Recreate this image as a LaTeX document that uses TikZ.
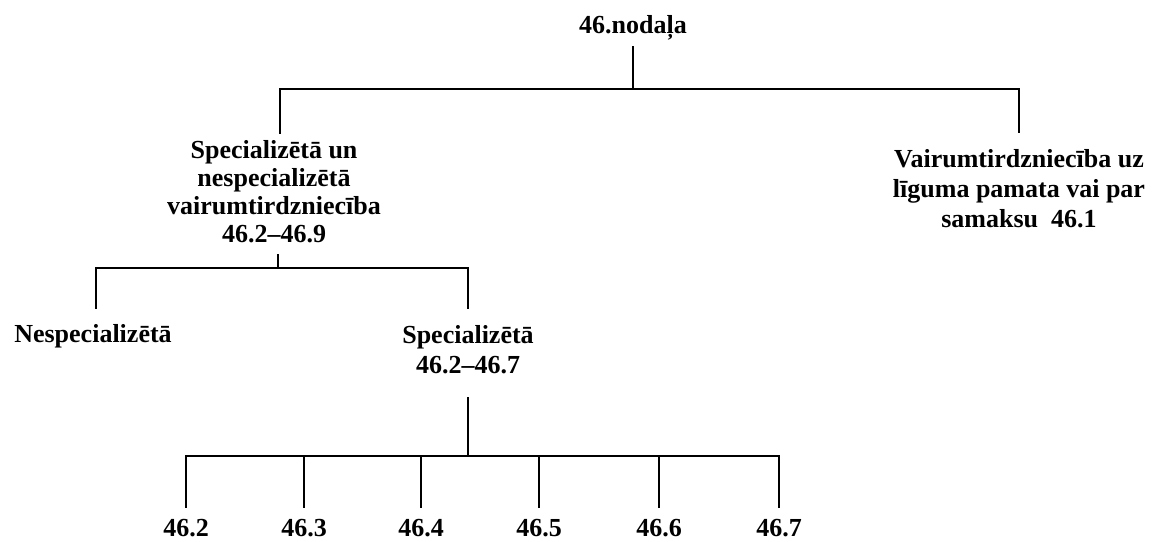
\documentclass[tikz,border=0pt]{standalone}
\usepackage{fontspec}
\setmainfont{Liberation Serif}
\begin{document}
\begin{tikzpicture}[x=1pt,y=-1pt,
  lbl/.style={inner sep=0pt,anchor=base,align=center,font=\fontsize{26}{30}\selectfont\bfseries},
  lbltight/.style={lbl,font=\fontsize{26}{28}\selectfont\bfseries},
  conn/.style={line width=1.6pt,line cap=rect}]
\useasboundingbox (0,0) rectangle (1155,541);
% nodes (anchor base = baseline of the last line)
\node[lbl] (root) at (633,33) {46.nodaļa};
\node[lbltight] (spun) at (274,242) {Specializētā un\\nespecializētā\\vairumtirdzniecība\\46.2–46.9};
\node[lbl] (vair) at (1019,227) {Vairumtirdzniecība uz\\līguma pamata vai par\\samaksu\ \ 46.1};
\node[lbl] (nesp) at (93,342) {Nespecializētā};
\node[lbl] (spec) at (468,373) {Specializētā\\46.2–46.7};
\foreach \n/\x in {2/186,3/304,4/421,5/539,6/659,7/779}{
  \node[lbl] (c\n) at (\x,536) {46.\n};
}
% junction coordinates
\coordinate (r0) at (633,47);
\coordinate (r1) at (633,89);
\coordinate (rl) at (280,89);
\coordinate (rr) at (1019,89);
\coordinate (rl2) at (280,133);
\coordinate (rr2) at (1019,132);
\coordinate (s0) at (278,255);
\coordinate (s1) at (278,268);
\coordinate (sl) at (96,268);
\coordinate (sr) at (468,268);
\coordinate (sl2) at (96,308);
\coordinate (sr2) at (468,308);
\coordinate (t0) at (468,398);
\coordinate (t1) at (468,456);
% connectors
\draw[conn] (r0) -- (r1);
\draw[conn] (rl2) -- (rl) -- (rr) -- (rr2);
\draw[conn] (s0) -- (s1);
\draw[conn] (sl2) -- (sl) -- (sr) -- (sr2);
\draw[conn] (t0) -- (t1);
\draw[conn] (186,456) -- (779,456);
\foreach \n/\x in {2/186,3/304,4/421,5/539,6/659,7/779}{
  \draw[conn] (\x,456) -- (\x,507);
}
\end{tikzpicture}
\end{document}
